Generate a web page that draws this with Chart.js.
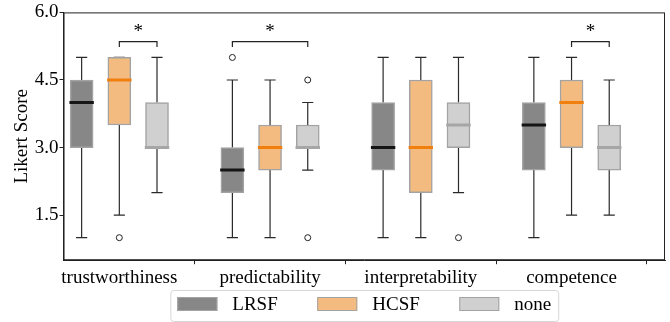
<!DOCTYPE html>
<html><head><meta charset="utf-8">
<script src="https://cdn.jsdelivr.net/npm/chart.js@4/dist/chart.umd.min.js"></script>
<style>html,body{margin:0;padding:0;background:#fff}#wrap{width:670px;height:322px;position:relative}</style>
</head><body><div id="wrap"><canvas id="c" width="670" height="322"></canvas></div>
<script>
// ---------- data ----------
const categories = ['trustworthiness', 'predictability', 'interpretability', 'competence'];
const seriesNames = ['LRSF', 'HCSF', 'none'];
const yTicks = [1.5, 3.0, 4.5, 6.0];

// LRSF
const lrsfMin = [1.0, 1.0, 1.0, 1.0];
const lrsfQ1  = [3.0, 2.0, 2.5, 2.5];
const lrsfMed = [4.0, 2.5, 3.0, 3.5];
const lrsfQ3  = [4.5, 3.0, 4.0, 4.0];
const lrsfMax = [5.0, 4.5, 5.0, 5.0];
const lrsfOut = [[], [5.0], [], []];
// HCSF
const hcsfMin = [1.5, 1.0, 1.0, 1.5];
const hcsfQ1  = [3.5, 2.5, 2.0, 3.0];
const hcsfMed = [4.5, 3.0, 3.0, 4.0];
const hcsfQ3  = [5.0, 3.5, 4.5, 4.5];
const hcsfMax = [5.0, 4.5, 5.0, 5.0];
const hcsfOut = [[1.0], [], [], []];
// none
const noneMin = [2.0, 2.5, 2.0, 1.5];
const noneQ1  = [3.0, 3.0, 3.0, 2.5];
const noneMed = [3.0, 3.0, 3.5, 3.0];
const noneQ3  = [4.0, 3.5, 4.0, 3.5];
const noneMax = [5.0, 4.0, 5.0, 4.5];
const noneOut = [[], [4.5, 1.0], [1.0], []];

// significance markers
const sigCategory = [0, 1, 3];
const sigFrom = [1, 0, 1];
const sigTo = [2, 2, 2];
const sigLabel = ['*', '*', '*'];

// ---------- styles ----------
const FONT = "'Liberation Serif', 'Times New Roman', serif";
const fills = ['#878787', '#f3bb80', '#d0d0d0'];
const medianColors = ['#151515', '#f07f0e', '#a6a6a6'];
const boxEdge = '#a3a3a3';
const whiskerColor = '#2a2a2a';
const offsets = [-0.25, 0, 0.25];
const capHalf = 0.037;
const medHalf = 0.081;
const bracketTop = 5.35, bracketDrop = 0.12, starBase = 5.45;

const series = [
  {min: lrsfMin, q1: lrsfQ1, med: lrsfMed, q3: lrsfQ3, max: lrsfMax, out: lrsfOut},
  {min: hcsfMin, q1: hcsfQ1, med: hcsfMed, q3: hcsfQ3, max: hcsfMax, out: hcsfOut},
  {min: noneMin, q1: noneQ1, med: noneMed, q3: noneQ3, max: noneMax, out: noneOut}
];

const pos = (ci, si) => ci + offsets[si];
const gap = x => ({x: x, y: null});

const datasets = [];
series.forEach((s, si) => {
  datasets.push({
    type: 'bar', label: seriesNames[si],
    data: categories.map((c, i) => ({x: pos(i, si), y: [s.q1[i], s.q3[i]]})),
    backgroundColor: fills[si], borderColor: boxEdge, borderWidth: 1.5,
    borderSkipped: false, grouped: false, barThickness: 23, order: 2
  });
});
series.forEach((s, si) => {
  const w = [];
  categories.forEach((c, i) => {
    const x = pos(i, si);
    w.push({x, y: s.min[i]}, {x, y: s.q1[i]}, gap(x));
    w.push({x, y: s.q3[i]}, {x, y: s.max[i]}, gap(x));
    w.push({x: x - capHalf, y: s.min[i]}, {x: x + capHalf, y: s.min[i]}, gap(x));
    w.push({x: x - capHalf, y: s.max[i]}, {x: x + capHalf, y: s.max[i]}, gap(x));
  });
  datasets.push({
    type: 'line', label: seriesNames[si] + ' whiskers', data: w,
    borderColor: whiskerColor, borderWidth: 1.2, pointRadius: 0, spanGaps: false,
    tension: 0, order: 3
  });
  const m = [];
  categories.forEach((c, i) => {
    const x = pos(i, si);
    m.push({x: x - medHalf, y: s.med[i]}, {x: x + medHalf, y: s.med[i]}, gap(x));
  });
  datasets.push({
    type: 'line', label: seriesNames[si] + ' median', data: m,
    borderColor: medianColors[si], borderWidth: 3, pointRadius: 0, spanGaps: false,
    tension: 0, order: 1
  });
  const o = [];
  categories.forEach((c, i) => { s.out[i].forEach(v => o.push({x: pos(i, si), y: v})); });
  datasets.push({
    type: 'scatter', label: seriesNames[si] + ' outliers', data: o,
    pointStyle: 'circle', pointRadius: 3, backgroundColor: '#ffffff',
    borderColor: '#222', borderWidth: 1, order: 0
  });
});
const br = [];
sigCategory.forEach((c, k) => {
  const a = pos(c, sigFrom[k]), b = pos(c, sigTo[k]);
  br.push({x: a, y: bracketTop - bracketDrop}, {x: a, y: bracketTop}, {x: b, y: bracketTop},
          {x: b, y: bracketTop - bracketDrop}, gap(b));
});
datasets.push({
  type: 'line', label: 'brackets', data: br, borderColor: '#222', borderWidth: 1.2,
  pointRadius: 0, spanGaps: false, tension: 0, order: 0
});

const framePlugin = {
  id: 'frame',
  afterDatasetsDraw(chart) {
    const {ctx, chartArea: a, scales} = chart;
    ctx.save();
    ctx.strokeStyle = '#222'; ctx.lineWidth = 1;
    ctx.strokeRect(a.left + 0.5, a.top + 0.5, a.right - a.left - 1, a.bottom - a.top - 1);
    ctx.fillStyle = '#000';
    ctx.font = '19px ' + FONT;
    ctx.textAlign = 'center'; ctx.textBaseline = 'alphabetic';
    sigCategory.forEach((c, k) => {
      const mid = (pos(c, sigFrom[k]) + pos(c, sigTo[k])) / 2;
      ctx.fillText(sigLabel[k], scales.x.getPixelForValue(mid), scales.y.getPixelForValue(starBase));
    });
    ctx.restore();
  },
  afterDraw(chart) {
    const {ctx, chartArea: a} = chart;
    ctx.save();
    ctx.font = '19px ' + FONT;
    const patchW = 40, patchH = 14, textGap = 15, itemGap = 39.5, pad = 7;
    const widths = seriesNames.map(n => patchW + textGap + ctx.measureText(n).width);
    const total = widths.reduce((p, v) => p + v, 0) + itemGap * (seriesNames.length - 1) + 2 * pad;
    const left = (a.left + a.right) / 2 - total / 2;
    const top = 290, h = 31, cy = 304;
    ctx.fillStyle = 'rgba(255,255,255,0.8)';
    ctx.strokeStyle = '#d6d6d6'; ctx.lineWidth = 1;
    ctx.beginPath();
    ctx.roundRect(left + 0.5, top + 0.5, total, h, 3);
    ctx.fill(); ctx.stroke();
    let x = left + pad;
    seriesNames.forEach((n, i) => {
      ctx.fillStyle = fills[i];
      ctx.fillRect(x, cy - patchH / 2, patchW, patchH);
      ctx.strokeStyle = boxEdge; ctx.lineWidth = 1;
      ctx.strokeRect(x + 0.5, cy - patchH / 2 + 0.5, patchW - 1, patchH - 1);
      ctx.fillStyle = '#000'; ctx.textAlign = 'left'; ctx.textBaseline = 'middle';
      ctx.fillText(n, x + patchW + textGap, cy + 1);
      x += widths[i] + itemGap;
    });
    ctx.restore();
  }
};

new Chart(document.getElementById('c'), {
  type: 'bar',
  data: {datasets},
  options: {
    responsive: false, animation: false, devicePixelRatio: 1,
    layout: {padding: {left: 2, right: 5, top: 1, bottom: 31}},
    plugins: {legend: {display: false}, tooltip: {enabled: false}},
    scales: {
      x: {
        type: 'linear', min: -0.37, max: 3.62, offset: false,
        afterBuildTicks: sc => { sc.ticks = categories.map((c, i) => ({value: i})); },
        ticks: {callback: v => categories[v], color: '#000', font: {family: FONT, size: 19}, padding: 2, maxRotation: 0, autoSkip: false},
        grid: {drawOnChartArea: false, drawTicks: true, tickLength: 4, color: '#222'},
        border: {display: true, color: '#222', width: 1}
      },
      y: {
        type: 'linear', min: 0.5, max: 6.0,
        afterBuildTicks: sc => { sc.ticks = yTicks.map(v => ({value: v})); },
        ticks: {callback: v => Number(v).toFixed(1), color: '#000', font: {family: FONT, size: 19}, padding: 1},
        grid: {drawOnChartArea: false, drawTicks: true, tickLength: 4, color: '#222'},
        border: {display: true, color: '#222', width: 1},
        title: {display: true, text: 'Likert Score', color: '#000', font: {family: FONT, size: 19}, padding: {top: 9, bottom: 0}}
      }
    }
  },
  plugins: [framePlugin]
});
</script></body></html>
